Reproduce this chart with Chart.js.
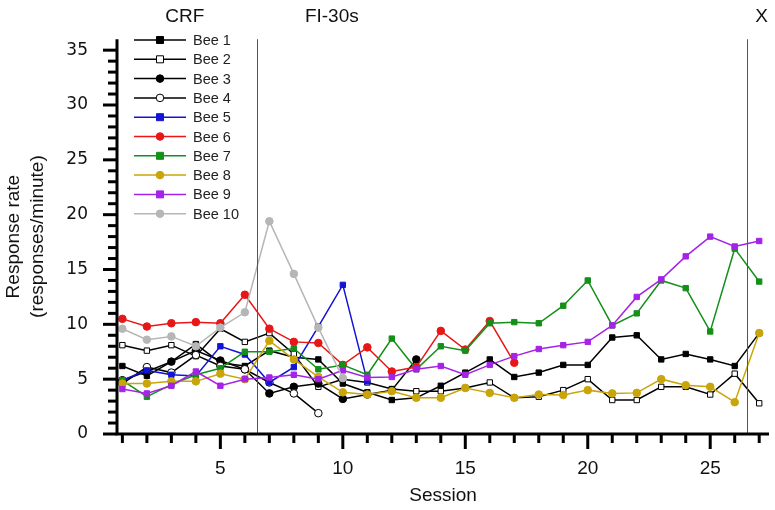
<!DOCTYPE html>
<html>
<head>
<meta charset="utf-8">
<script src="https://cdn.jsdelivr.net/npm/chart.js@4.4.1/dist/chart.umd.min.js"></script>
<style>
  html, body { margin: 0; padding: 0; background: #fff; }
  #wrap { width: 775px; height: 510px; }
</style>
</head>
<body>
<div id="wrap"><canvas id="chart" width="775" height="510"></canvas></div>
<script>
const sessions = Array.from({ length: 27 }, (_, i) => i + 1);

const bee1 = [6.2, 5.3, 6.6, 8.2, 6.5, 6.2, 7.6, 7.0, 6.8, 4.6, 3.8, 3.1, 3.3, 4.4, 5.6, 6.8, 5.2, 5.6, 6.3, 6.3, 8.8, 9.0, 6.8, 7.3, 6.8, 6.2, 9.2];
const bee2 = [8.1, 7.6, 8.1, 7.1, 9.6, 8.4, 9.2, 7.3, 4.3, 5.0, 4.7, 4.1, 3.9, 3.9, 4.2, 4.7, 3.3, 3.4, 4.0, 5.0, 3.1, 3.1, 4.3, 4.3, 3.6, 5.5, 2.8];
const bee3 = [4.9, 5.7, 6.6, 7.6, 6.7, 5.9, 3.7, 4.3, 4.6, 3.2, 3.6, 4.0, 6.8];
const bee4 = [4.6, 6.1, 5.6, 7.2, 6.2, 5.9, 4.7, 3.7, 1.9];
const bee5 = [4.9, 5.8, 5.4, 5.3, 8.0, 7.25, 4.7, 6.1, 9.8, 13.6, 4.8];
const bee6 = [10.5, 9.8, 10.1, 10.2, 10.1, 12.7, 9.6, 8.4, 8.3, 6.3, 7.9, 5.7, 6.1, 9.4, 7.7, 10.3, 6.5];
const bee7 = [4.9, 3.4, 4.5, 5.4, 6.0, 7.5, 7.5, 7.8, 5.9, 6.3, 5.4, 8.7, 5.9, 8.0, 7.6, 10.1, 10.2, 10.1, 11.7, 14.0, 9.9, 11.0, 14.0, 13.3, 9.35, 16.9, 13.9];
const bee8 = [4.6, 4.6, 4.8, 4.8, 5.5, 5.0, 8.5, 6.8, 5.2, 3.8, 3.6, 3.9, 3.3, 3.3, 4.2, 3.75, 3.3, 3.6, 3.55, 4.0, 3.7, 3.75, 5.0, 4.45, 4.3, 2.9, 9.2];
const bee9 = [4.1, 3.7, 4.4, 5.7, 4.4, 5.0, 5.15, 5.4, 5.0, 5.8, 5.15, 5.2, 5.9, 6.2, 5.4, 6.3, 7.1, 7.75, 8.1, 8.4, 9.9, 12.5, 14.1, 16.2, 18.0, 17.1, 17.6];
const bee10 = [9.6, 8.6, 8.9, 8.0, 9.7, 11.1, 19.4, 14.6, 9.7, 5.1];

const yTicks = [0, 5, 10, 15, 20, 25, 30, 35];
const xTickLabels = [5, 10, 15, 20, 25];
const phaseBreaks = [6.5, 26.5];
const phases = [
  { label: 'CRF', x: 3.55 },
  { label: 'FI-30s', x: 9.55 },
  { label: 'X', x: 27.1 },
];

const FONT = 'Arial, "Liberation Sans", sans-serif';

function series(label, values, color, style, fill) {
  return {
    label: label,
    data: values.map((v, i) => ({ x: sessions[i], y: v })),
    borderColor: color,
    backgroundColor: fill,
    pointBorderColor: color,
    pointBackgroundColor: fill,
    pointStyle: style,
    pointRadius: 3.8,
    pointBorderWidth: 1,
    borderWidth: 1.5,
    tension: 0,
  };
}

const datasets = [
  series('Bee 10', bee10, '#b6b6b6', 'circle', '#b6b6b6'),
  series('Bee 9', bee9, '#a523e6', 'rect', '#a523e6'),
  series('Bee 8', bee8, '#c9a50a', 'circle', '#c9a50a'),
  series('Bee 7', bee7, '#14901a', 'rect', '#14901a'),
  series('Bee 6', bee6, '#e81616', 'circle', '#e81616'),
  series('Bee 5', bee5, '#1414d6', 'rect', '#1414d6'),
  series('Bee 4', bee4, '#000000', 'circle', '#ffffff'),
  series('Bee 3', bee3, '#000000', 'circle', '#000000'),
  series('Bee 2', bee2, '#000000', 'rect', '#ffffff'),
  series('Bee 1', bee1, '#000000', 'rect', '#000000'),
];

const decor = {
  id: 'decor',
  afterDraw(chart) {
    const { ctx, chartArea, scales } = chart;
    const x = scales.x, y = scales.y;
    ctx.save();
    // phase lines
    ctx.strokeStyle = '#555';
    ctx.lineWidth = 1;
    phaseBreaks.forEach(b => {
      const px = Math.round(x.getPixelForValue(b)) + 0.5;
      ctx.beginPath();
      ctx.moveTo(px, chartArea.top);
      ctx.lineTo(px, chartArea.bottom);
      ctx.stroke();
    });
    // phase labels
    ctx.fillStyle = '#111';
    ctx.font = '19px ' + FONT;
    ctx.textAlign = 'center';
    ctx.textBaseline = 'middle';
    phases.forEach(p => {
      ctx.fillText(p.label, x.getPixelForValue(p.x), 17);
    });
    // axes lines
    ctx.strokeStyle = '#000';
    ctx.lineWidth = 3;
    ctx.beginPath();
    ctx.moveTo(chartArea.left, chartArea.top);
    ctx.lineTo(chartArea.left, chartArea.bottom);
    ctx.lineTo(chartArea.right, chartArea.bottom);
    ctx.stroke();
    // y ticks: minor every 1, major every 5
    for (let v = 0; v <= 35; v++) {
      const py = y.getPixelForValue(v);
      const len = v % 5 === 0 ? 14 : 9;
      ctx.beginPath();
      ctx.moveTo(chartArea.left - len, py);
      ctx.lineTo(chartArea.left, py);
      ctx.stroke();
    }
    // x ticks
    sessions.forEach(s => {
      const px = x.getPixelForValue(s);
      const len = s % 5 === 0 ? 15 : 9;
      ctx.beginPath();
      ctx.moveTo(px, chartArea.bottom);
      ctx.lineTo(px, chartArea.bottom + len);
      ctx.stroke();
    });
    // legend
    const lx0 = 134, lx1 = 186, ly0 = 40, step = 19.3;
    ctx.font = '14.5px ' + FONT;
    ctx.textAlign = 'left';
    const legendOrder = datasets.slice().reverse();
    legendOrder.forEach((d, i) => {
      const ly = ly0 + i * step;
      ctx.strokeStyle = d.borderColor;
      ctx.lineWidth = 1.5;
      ctx.beginPath();
      ctx.moveTo(lx0, ly);
      ctx.lineTo(lx1, ly);
      ctx.stroke();
      ctx.lineWidth = 1;
      ctx.fillStyle = d.pointBackgroundColor;
      const mx = (lx0 + lx1) / 2;
      ctx.beginPath();
      if (d.pointStyle === 'rect') {
        ctx.rect(mx - 3.5, ly - 3.5, 7, 7);
      } else {
        ctx.arc(mx, ly, 3.8, 0, Math.PI * 2);
      }
      ctx.fill();
      ctx.stroke();
      ctx.fillStyle = '#222';
      ctx.fillText(d.label, 193, ly + 1);
    });
    ctx.restore();
  }
};

new Chart(document.getElementById('chart'), {
  type: 'line',
  data: { datasets: datasets },
  options: {
    responsive: false,
    animation: false,
    layout: { padding: { left: 0, right: 6, top: 5, bottom: 0 } },
    plugins: {
      legend: { display: false },
      tooltip: { enabled: false },
    },
    scales: {
      x: {
        type: 'linear',
        min: 0.78,
        max: 27.4,
        grid: { display: false, drawTicks: false },
        border: { display: false },
        afterBuildTicks: axis => { axis.ticks = xTickLabels.map(v => ({ value: v })); },
        afterFit: axis => { axis.height = 76; },
        ticks: {
          color: '#111',
          font: { family: FONT, size: 19 },
          padding: 23,
          maxRotation: 0,
        },
        title: {
          display: true,
          text: 'Session',
          color: '#111',
          font: { family: FONT, size: 19 },
          padding: { top: 0, bottom: 3 },
        },
      },
      y: {
        min: 0,
        max: 36,
        grid: { display: false, drawTicks: false },
        border: { display: false },
        afterBuildTicks: axis => { axis.ticks = yTicks.map(v => ({ value: v })); },
        afterFit: axis => { axis.width = 117; },
        ticks: {
          color: '#111',
          font: { family: '"DejaVu Sans", sans-serif', size: 17 },
          padding: 29,
        },
        title: {
          display: true,
          text: ['Response rate', '(responses/minute)'],
          color: '#111',
          font: { family: FONT, size: 19, lineHeight: 1.25 },
          padding: { top: 2, bottom: 0 },
        },
      },
    },
  },
  plugins: [decor],
});
</script>
</body>
</html>
